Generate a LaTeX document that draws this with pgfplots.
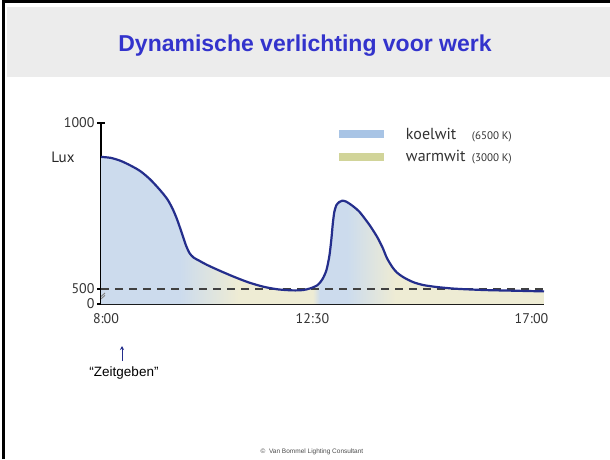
\documentclass[border=0pt]{standalone}
\usepackage{pgfplots}
\pgfplotsset{compat=1.18}
\usepackage{pgfplotstable}
\usepackage{fontspec}
\setmainfont{PT Sans}
\newfontfamily\arial{Liberation Sans}
\usetikzlibrary{arrows.meta}

\definecolor{koel}{rgb}{0.80,0.86,0.93}
\definecolor{warm}{rgb}{0.935,0.925,0.83}
\definecolor{koelleg}{rgb}{0.66,0.77,0.90}
\definecolor{warmleg}{rgb}{0.82,0.83,0.60}
\definecolor{curve}{rgb}{0.14,0.18,0.55}
\definecolor{titleblue}{rgb}{0.20,0.20,0.80}
\definecolor{band}{rgb}{0.925,0.925,0.925}

% horizontal shading: 8h -> 25bp, 17h -> 75bp
\pgfdeclarehorizontalshading{luxshade}{100bp}{%
  color(0bp)=(koel); color(25bp)=(koel); color(33.9bp)=(koel);
  color(40.6bp)=(warm); color(48.9bp)=(warm); color(49.7bp)=(koel);
  color(52.8bp)=(koel); color(58.3bp)=(warm); color(75bp)=(warm); color(100bp)=(warm)}

\pgfplotstableread{
h lux
8.00 898
8.20 895
8.40 886
8.60 872
8.80 855
9.00 830
9.20 798
9.35 770
9.46 740
9.55 708
9.65 665
9.73 630
9.80 608
9.88 595
10.00 585
10.15 573
10.40 556
10.70 537
11.00 520
11.30 507
11.60 499
11.90 496
12.10 497
12.25 502
12.40 512
12.50 530
12.58 557
12.64 600
12.68 650
12.71 698
12.74 732
12.78 752
12.84 762
12.90 766
12.97 764
13.05 757
13.15 746
13.26 731
13.45 694
13.61 657
13.72 625
13.81 593
13.92 566
14.01 550
14.15 535
14.34 521
14.55 512
14.83 506
15.20 501
15.80 497
16.40 495
17.00 493
}\luxdata

\begin{document}
\begin{tikzpicture}[x=1pt,y=1pt]
\path[use as bounding box,fill=white] (0,0) rectangle (610,459);
% slide header
\fill[band] (7,382) rectangle (610,452);
\draw[line width=3pt,black] (3,0) -- (3,457.5) -- (610,457.5);
\node[anchor=base,text=titleblue,font=\arial\bfseries\fontsize{23}{23}\selectfont] at (305,407) {Dynamische verlichting voor werk};

\begin{axis}[
  at={(101pt,155pt)}, anchor=south west,
  scale only axis, width=443pt, height=181pt,
  xmin=8, xmax=17, ymin=455, ymax=1000,
  axis lines=left,
  axis line style={-, line width=1.4pt, black},
  xtick={8,12.5,17},
  xticklabels={\hspace*{10pt}8:00, 12:30\hspace*{20pt}, 17:00\hspace*{25pt}},
  xtick style={draw=none},
  ytick={455,500,1000}, yticklabels={0,500,1000},
  tick align=center, major tick length=8pt,
  ytick style={line width=1.2pt, black},
  tick label style={font=\fontsize{14}{14}\selectfont, text=black!80},
  xticklabel style={yshift=-2pt},
  yticklabel style={xshift=1pt},
  ylabel={Lux},
  ylabel style={rotate=-90, at={(axis description cs:-0.086,0.81)}, anchor=center, font=\fontsize{15}{15}\selectfont, text=black!85},
  legend style={at={(axis description cs:0.530,0.997)}, anchor=north west,
    draw=none, fill=none, font=\fontsize{16}{16}\selectfont, text=black!80,
    row sep=6pt, nodes={inner xsep=0pt},
    /tikz/every odd column/.append style={column sep=22pt}},
  legend cell align=left,
  legend image code/.code={\fill[#1] (0pt,-4pt) rectangle (45pt,4pt);},
  clip=true,
]
\addplot[draw=none, shading=luxshade, forget plot] table[x=h,y=lux]{\luxdata} \closedcycle;
\addplot[dash pattern=on 8pt off 6pt, line width=1.4pt, black!75, forget plot] coordinates {(8,500) (17,500)};
\addplot[curve, line width=2.2pt, smooth, tension=0.45, forget plot] table[x=h,y=lux]{\luxdata};
\addlegendimage{draw=none, fill=koelleg}
\addlegendentry{\makebox[66pt][l]{koelwit}{\fontsize{11}{11}\selectfont(6500 K)}}
\addlegendimage{draw=none, fill=warmleg}
\addlegendentry{\makebox[66pt][l]{warmwit}{\fontsize{11}{11}\selectfont(3000 K)}}
% broken-axis marks
\draw[black!50, line width=0.9pt] (axis cs:8,469) ++(-4pt,-3pt) -- ++(8pt,7pt);
\draw[black!50, line width=0.9pt] (axis cs:8,476) ++(-4pt,-3pt) -- ++(8pt,7pt);
\end{axis}

\draw[-{Stealth[length=4pt,width=4pt]}, curve, line width=0.9pt] (122,98) -- (122,113);
\node[font=\arial\fontsize{13.5}{13.5}\selectfont] at (124,86) {“Zeitgeben”};
\node[anchor=base, font=\arial\fontsize{6.5}{6.5}\selectfont, text=black!70] at (312,6) {\textcopyright\ \ Van Bommel Lighting Consultant};
\end{tikzpicture}
\end{document}
